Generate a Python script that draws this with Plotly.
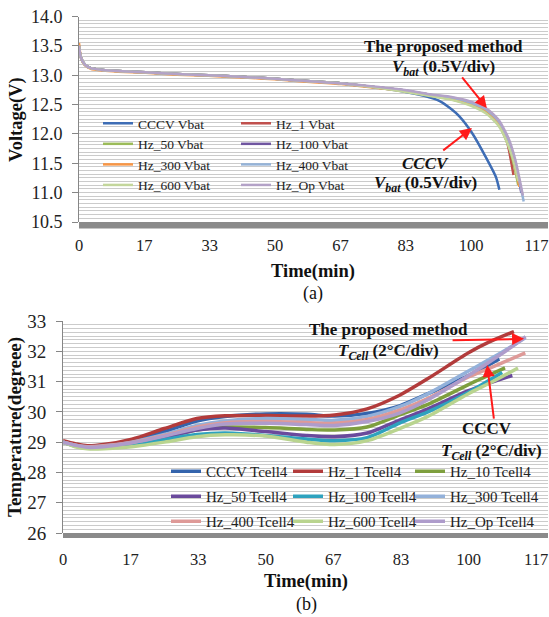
import plotly.graph_objects as go

# ---------------------------------------------------------------- canvas
W, H = 549, 617
SERIF = "Liberation Serif, Times New Roman, serif"


def fx(p):
    """pixel column -> paper x"""
    return p / W


def fy(p):
    """pixel row -> paper y"""
    return 1 - p / H


# ---------------------------------------------------------------- shared axis labels
time_tick_vals = [0, 50 / 3, 100 / 3, 50, 200 / 3, 250 / 3, 100, 350 / 3]
time_tick_text = ["0", "17", "33", "50", "67", "83", "100", "117"]

# ---------------------------------------------------------------- (a) battery voltage, V
names_v = ["CCCV Vbat", "Hz_1 Vbat", "Hz_50 Vbat", "Hz_100 Vbat",
           "Hz_300 Vbat", "Hz_400 Vbat", "Hz_600 Vbat", "Hz_Op Vbat"]
colors_v = ["#3E6DB5", "#C0504D", "#9BBB59", "#7056A0",
            "#F79646", "#95B3D7", "#C3D69B", "#B3A2C7"]

t_cccv_v = [0, 0.5, 1.5, 3, 6, 10, 17, 25, 33, 42, 50, 58, 67, 75, 83, 88, 92, 95, 97, 100.2, 103.7, 106.3, 107.2]
v_cccv = [13.45, 13.3, 13.18, 13.12, 13.09, 13.07, 13.05, 13.02, 13.0, 12.97, 12.94, 12.9, 12.86, 12.8,
          12.72, 12.65, 12.56, 12.42, 12.3, 12.02, 11.61, 11.27, 11.05]

t_hz1_v = [0, 0.5, 1.5, 3, 6, 10, 17, 25, 33, 42, 50, 58, 67, 75, 83, 90, 95, 100, 104, 107, 109.2, 110.8]
v_hz1 = [13.5, 13.3, 13.18, 13.12, 13.09, 13.07, 13.05, 13.02, 13.0, 12.97, 12.94, 12.9, 12.86, 12.8,
         12.74, 12.66, 12.61, 12.52, 12.4, 12.2, 11.85, 11.3]

t_hz50_v = [0, 0.5, 1.5, 3, 6, 10, 17, 25, 33, 42, 50, 58, 67, 75, 83, 90, 95, 100, 104, 107, 109.5, 111, 112]
v_hz50 = [13.5, 13.3, 13.18, 13.12, 13.09, 13.07, 13.05, 13.02, 13.0, 12.97, 12.94, 12.9, 12.86, 12.8,
          12.73, 12.65, 12.59, 12.49, 12.36, 12.16, 11.8, 11.45, 11.13]

t_hz100_v = [0, 0.5, 1.5, 3, 6, 10, 17, 25, 33, 42, 50, 58, 67, 75, 83, 90, 95, 100, 104, 107, 109.5, 111.3, 112.8]
v_hz100 = [13.5, 13.3, 13.18, 13.12, 13.09, 13.07, 13.05, 13.02, 13.0, 12.97, 12.94, 12.9, 12.86, 12.8,
           12.74, 12.66, 12.61, 12.52, 12.4, 12.2, 11.88, 11.48, 11.0]

t_hz300_v = [0, 0.5, 1.5, 3, 6, 10, 17, 25, 33, 42, 50, 58, 67, 75, 83, 90, 95, 100, 104, 107, 109.5, 111.2, 112.3]
v_hz300 = [13.55, 13.3, 13.17, 13.11, 13.08, 13.06, 13.04, 13.01, 12.99, 12.96, 12.93, 12.89, 12.85, 12.79,
           12.73, 12.65, 12.6, 12.51, 12.39, 12.19, 11.86, 11.45, 11.1]

t_hz400_v = [0, 0.5, 1.5, 3, 6, 10, 17, 25, 33, 42, 50, 58, 67, 75, 83, 90, 95, 100, 104, 107, 109.5, 111.3, 113.4]
v_hz400 = [13.5, 13.3, 13.18, 13.12, 13.09, 13.07, 13.05, 13.02, 13.0, 12.97, 12.94, 12.9, 12.86, 12.8,
           12.74, 12.66, 12.62, 12.53, 12.41, 12.22, 11.9, 11.5, 10.85]

t_hz600_v = [0, 0.5, 1.5, 3, 6, 10, 17, 25, 33, 42, 50, 58, 67, 75, 83, 90, 95, 100, 104, 107, 109.5, 111, 112]
v_hz600 = [13.5, 13.3, 13.18, 13.12, 13.09, 13.07, 13.05, 13.02, 13.0, 12.97, 12.94, 12.9, 12.86, 12.8,
           12.72, 12.64, 12.58, 12.48, 12.34, 12.14, 11.8, 11.5, 11.2]

t_hzop_v = [0, 0.5, 1.5, 3, 6, 10, 17, 25, 33, 42, 50, 58, 67, 75, 83, 90, 95, 100, 104, 107, 109.5, 111.3, 113.2]
v_hzop = [13.5, 13.3, 13.18, 13.12, 13.09, 13.07, 13.05, 13.02, 13.0, 12.97, 12.94, 12.9, 12.86, 12.81,
          12.75, 12.67, 12.63, 12.55, 12.43, 12.24, 11.93, 11.55, 10.95]

times_v = [t_cccv_v, t_hz1_v, t_hz50_v, t_hz100_v, t_hz300_v, t_hz400_v, t_hz600_v, t_hzop_v]
volts = [v_cccv, v_hz1, v_hz50, v_hz100, v_hz300, v_hz400, v_hz600, v_hzop]

# ---------------------------------------------------------------- (b) cell temperature, degrees
names_t = ["CCCV Tcell4", "Hz_1 Tcell4", "Hz_10 Tcell4", "Hz_50 Tcell4", "Hz_100 Tcell4",
           "Hz_300 Tcell4", "Hz_400 Tcell4", "Hz_600 Tcell4", "Hz_Op Tcell4"]
colors_t = ["#3464AC", "#B23B3B", "#7E9F3E", "#6A4A9C", "#2EA2BE",
            "#93B1DA", "#DE9A98", "#B9D48F", "#AE9CCB"]

t_cccv_t = [0, 3, 6, 10, 17, 25, 33, 40, 50, 60, 67, 75, 83, 90, 100, 107.6]
c_cccv = [29.0, 28.9, 28.86, 28.9, 29.05, 29.35, 29.7, 29.85, 29.93, 29.92, 29.86, 29.95, 30.2, 30.6, 31.2, 31.75]

t_hz1_t = [0, 3, 6, 10, 17, 25, 33, 40, 50, 60, 67, 75, 83, 90, 100, 105, 111.2]
c_hz1 = [29.05, 28.95, 28.88, 28.92, 29.1, 29.45, 29.78, 29.87, 29.88, 29.86, 29.9, 30.1, 30.55, 31.1, 31.95, 32.3, 32.65]

t_hz10_t = [0, 3, 6, 10, 17, 25, 33, 40, 50, 60, 67, 75, 83, 90, 100, 109]
c_hz10 = [29.0, 28.88, 28.83, 28.85, 28.97, 29.17, 29.4, 29.5, 29.48, 29.42, 29.4, 29.5, 29.9, 30.25, 30.9, 31.45]

t_hz50_t = [0, 3, 6, 10, 17, 25, 33, 40, 50, 60, 67, 75, 83, 90, 100, 110.8]
c_hz50 = [29.0, 28.88, 28.82, 28.84, 28.95, 29.15, 29.4, 29.47, 29.35, 29.22, 29.18, 29.3, 29.73, 30.1, 30.7, 31.2]

t_hz100_t = [0, 3, 6, 10, 17, 25, 33, 40, 50, 60, 67, 75, 83, 90, 100, 108.3]
c_hz100 = [29.0, 28.87, 28.8, 28.81, 28.9, 29.08, 29.25, 29.3, 29.22, 29.1, 29.05, 29.15, 29.63, 30.0, 30.65, 31.3]

t_hz300_t = [0, 3, 6, 10, 17, 25, 33, 40, 50, 60, 67, 75, 83, 90, 100, 108, 114]
c_hz300 = [29.0, 28.9, 28.85, 28.88, 29.0, 29.25, 29.55, 29.7, 29.78, 29.75, 29.72, 29.85, 30.17, 30.6, 31.35, 31.95, 32.45]

t_hz400_t = [0, 3, 6, 10, 17, 25, 33, 40, 50, 60, 67, 75, 83, 90, 100, 108, 114]
c_hz400 = [29.0, 28.9, 28.84, 28.87, 28.99, 29.22, 29.5, 29.64, 29.68, 29.65, 29.62, 29.75, 30.06, 30.45, 31.15, 31.6, 31.95]

t_hz600_t = [0, 3, 6, 10, 17, 25, 33, 40, 50, 60, 67, 75, 83, 90, 100, 106, 112.2]
c_hz600 = [29.0, 28.85, 28.78, 28.78, 28.85, 29.0, 29.18, 29.24, 29.2, 29.0, 28.92, 29.05, 29.45, 29.85, 30.6, 31.0, 31.45]

t_hzop_t = [0, 3, 6, 10, 17, 25, 33, 40, 50, 60, 67, 75, 83, 90, 100, 108, 114.1]
c_hzop = [29.0, 28.9, 28.83, 28.85, 28.98, 29.2, 29.45, 29.6, 29.62, 29.58, 29.55, 29.68, 29.96, 30.4, 31.2, 31.9, 32.48]

times_t = [t_cccv_t, t_hz1_t, t_hz10_t, t_hz50_t, t_hz100_t, t_hz300_t, t_hz400_t, t_hz600_t, t_hzop_t]
temps = [c_cccv, c_hz1, c_hz10, c_hz50, c_hz100, c_hz300, c_hz400, c_hz600, c_hzop]

# legend column each series is listed in
legend_of_v = ["legend", "legend2", "legend", "legend2", "legend", "legend2", "legend", "legend2"]
legend_of_t = ["legend3", "legend4", "legend5", "legend3", "legend4", "legend5", "legend3", "legend4", "legend5"]

# ---------------------------------------------------------------- traces
fig = go.Figure()

for name, color, t, v, lg in zip(names_v, colors_v, times_v, volts, legend_of_v):
    fig.add_trace(go.Scatter(
        x=t, y=v, name=name, mode="lines", xaxis="x", yaxis="y", legend=lg,
        line=dict(color=color, width=2.5, shape="spline", smoothing=0.6),
    ))

for name, color, t, c, lg in zip(names_t, colors_t, times_t, temps, legend_of_t):
    fig.add_trace(go.Scatter(
        x=t, y=c, name=name, mode="lines", xaxis="x2", yaxis="y2", legend=lg,
        legendgroup=name,
        line=dict(color=color, width=3.5, shape="spline", smoothing=0.8),
    ))

# ---------------------------------------------------------------- axes
grid_color = "#CBCBCB"
axis_color = "#868686"


def time_axis(domain, anchor, size, standoff):
    return dict(
        domain=domain, anchor=anchor, range=[0, 119.6], automargin=False,
        tickmode="array", tickvals=time_tick_vals, ticktext=time_tick_text,
        showgrid=False, zeroline=False, showline=False, ticks="",
        ticklabeloverflow="allow", ticklabelstandoff=standoff,
        tickfont=dict(family=SERIF, size=size, color="#222"),
    )


def value_axis(domain, anchor, rng, dtick, minor_dtick, fmt, size):
    return dict(
        domain=domain, anchor=anchor, range=rng, dtick=dtick, tick0=rng[0], automargin=False,
        tickformat=fmt, showgrid=True, gridcolor=grid_color, gridwidth=1.3,
        minor=dict(dtick=minor_dtick, showgrid=True, gridcolor=grid_color, gridwidth=1.3),
        zeroline=False, showline=True, linecolor=axis_color, linewidth=1,
        ticks="outside", ticklen=6, tickcolor=axis_color, ticklabelstandoff=6,
        ticklabeloverflow="allow", tickfont=dict(family=SERIF, size=size, color="#222"),
    )


fig.update_layout(
    xaxis=time_axis([fx(79), fx(548)], "y", 16.5, 11),
    yaxis=value_axis([fy(222), fy(16.5)], "x", [10.5, 14.0], 0.5, 0.0625, ".1f", 18),
    xaxis2=time_axis([fx(63), fx(548)], "y2", 16.5, 14),
    yaxis2=value_axis([fy(533), fy(321)], "x2", [26, 33], 1, 0.125, "d", 19),
)

# ---------------------------------------------------------------- legends
def legend_box(x, y, size, gap):
    return dict(
        x=fx(x), y=fy(y), xanchor="left", yanchor="top", orientation="v",
        bgcolor="rgba(0,0,0,0)", borderwidth=0, tracegroupgap=gap,
        font=dict(family=SERIF, size=size, color="#222"),
    )


fig.update_layout(
    legend=legend_box(98, 108, 13.5, 0),
    legend2=legend_box(236, 108, 13.5, 0),
    legend3=legend_box(166, 455, 15, 2.5),
    legend4=legend_box(288, 455, 15, 2.5),
    legend5=legend_box(410, 455, 15, 2.5),
)

# ---------------------------------------------------------------- floor bars under each plot
fig.add_shape(type="rect", xref="x domain", yref="paper", x0=0, x1=1,
              y0=fy(228.5), y1=fy(222), fillcolor="#8A8A8A", line_width=0, layer="above")
fig.add_shape(type="rect", xref="x2 domain", yref="paper", x0=0, x1=1,
              y0=fy(538), y1=fy(533), fillcolor="#8A8A8A", line_width=0, layer="above")

# ---------------------------------------------------------------- text and arrows
ARROW = "#FF1A1A"
notes = []


def text(x, y, s, size=17, angle=0):
    notes.append(dict(xref="paper", yref="paper", x=fx(x), y=fy(y), text=s, showarrow=False,
                      xanchor="center", yanchor="middle", textangle=angle,
                      font=dict(family=SERIF, size=size, color="#111")))


def arrow(xr, yr, head, tail):
    notes.append(dict(xref=xr, yref=yr, axref=xr, ayref=yr, x=head[0], y=head[1],
                      ax=tail[0], ay=tail[1], text="", showarrow=True, arrowhead=2,
                      arrowsize=1.2, arrowwidth=2, arrowcolor=ARROW, standoff=0, startstandoff=0))


# panel (a)
text(443, 47, "<b>The proposed method</b>")
text(443, 68, "<b><i>V<sub>bat</sub></i> (0.5V/div)</b>")
text(425, 163, "<b><i>CCCV</i></b>")
text(425, 184, "<b><i>V<sub>bat</sub></i> (0.5V/div)</b>")
arrow("x", "y", (104.0, 12.44), (97.4, 12.99))
arrow("x", "y", (100.2, 12.10), (92.5, 11.70))
text(17, 120, "<b>Voltage(V)</b>", 18.5, -90)
text(313, 271, "<b>Time(min)</b>", 18.5)
text(313, 293, "(a)", 18)

# panel (b)
text(388, 330, "<b>The proposed method</b>")
text(388, 352, "<b><i>T<sub>Cell</sub></i> (2°C/div)</b>")
text(487, 428, "<b>CCCV</b>")
text(491, 452, "<b><i>T<sub>Cell</sub></i> (2°C/div)</b>")
arrow("x2", "y2", (113.7, 32.41), (95.7, 32.36))
arrow("x2", "y2", (104.6, 31.55), (106.3, 29.73))
text(15, 427, "<b>Temperature(degreee)</b>", 19, -90)
text(306, 581, "<b>Time(min)</b>", 18.5)
text(306, 604, "(b)", 18)

fig.update_layout(
    annotations=notes,
    width=W, height=H, autosize=False,
    margin=dict(l=0, r=0, t=0, b=0, autoexpand=False),
    paper_bgcolor="white", plot_bgcolor="white",
    font=dict(family=SERIF, color="#222"),
)

fig.write_html("out.html", include_plotlyjs=True, config={"displayModeBar": False})
